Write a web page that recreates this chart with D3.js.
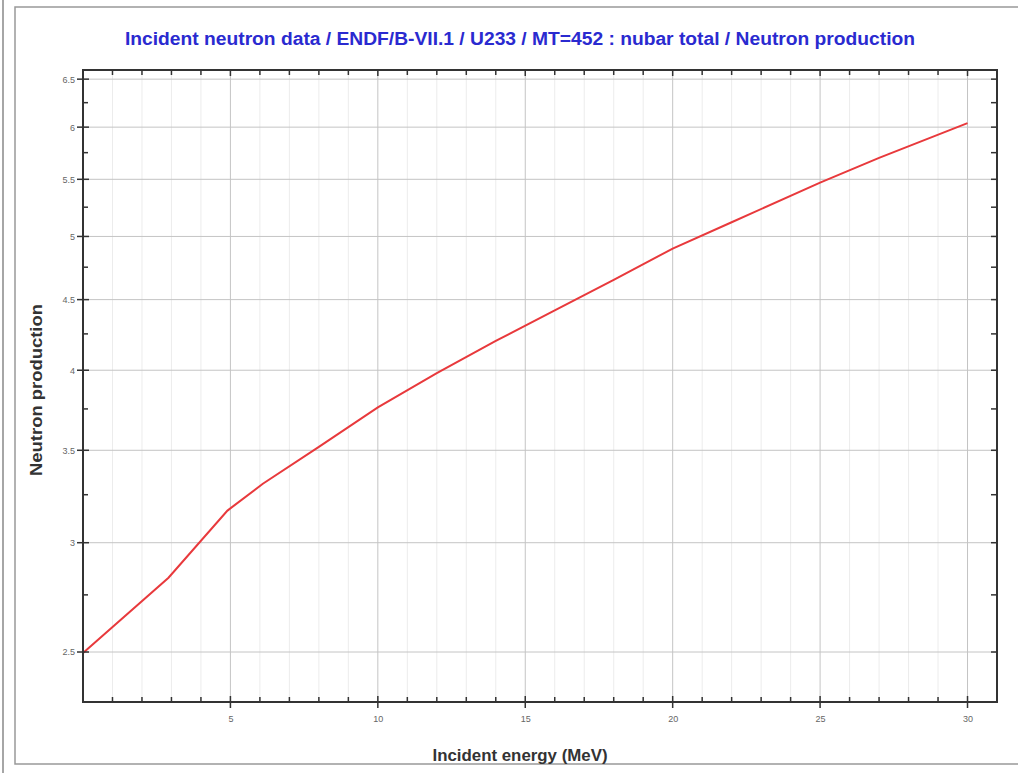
<!DOCTYPE html>
<html><head><meta charset="utf-8">
<script src="https://cdn.jsdelivr.net/npm/d3@7"></script>
<style>html,body{margin:0;padding:0;background:#fff;}svg{display:block;}</style>
</head><body>
<svg id="chart" width="1018" height="773"></svg>
<script>
// Data (ENDF/B-VII.1 U233 MT=452 nubar total)
const energyMeV = [0.00001, 2.9, 4.9, 6.1, 8, 10, 12, 14, 16, 18, 20, 22, 25, 27, 30];
const nubar     = [2.496, 2.83, 3.165, 3.31, 3.52, 3.76, 3.98, 4.20, 4.42, 4.65, 4.90, 5.12, 5.47, 5.70, 6.04];
const xMajorTicks = [5, 10, 15, 20, 25, 30];
const xMinorTicks = d3.range(1, 31);
const yMajorTicks = [2.5, 3, 3.5, 4, 4.5, 5, 5.5, 6, 6.5];
const yMinorTicks = [2.75, 3.25, 3.75, 4.25, 4.75, 5.25, 5.75, 6.25];
const titleText = "Incident neutron data / ENDF/B-VII.1 / U233 / MT=452 : nubar total / Neutron production";
const xLabel = "Incident energy (MeV)";
const yLabel = "Neutron production";

const svg = d3.select("#chart");
const L = 83, R = 997, T = 70, B = 702;
const x = d3.scaleLinear().domain([0, 31]).range([L, R]);
const y = d3.scaleLog().domain([2.3, 6.6]).range([B, T]);
const FONT = "Liberation Sans, Arial, sans-serif";

// outer frame
svg.append("line").attr("x1",3).attr("x2",3).attr("y1",0).attr("y2",773).attr("stroke","#888").attr("stroke-width",1.5);
svg.append("rect").attr("x",15).attr("y",7).attr("width",1010).attr("height",757)
  .attr("fill","none").attr("stroke","#999").attr("stroke-width",1.5);

// title
svg.append("text").attr("x",520).attr("y",45).attr("text-anchor","middle")
  .attr("font-family",FONT).attr("font-weight","bold")
  .attr("font-size",18).attr("textLength",790).attr("lengthAdjust","spacingAndGlyphs")
  .attr("fill","#2a2ad0").text(titleText);

// grid
const g = svg.append("g");
g.selectAll(".vmin").data(xMinorTicks.filter(d=>d%5!==0)).enter().append("line")
  .attr("x1",d=>x(d)).attr("x2",d=>x(d)).attr("y1",T).attr("y2",B).attr("stroke","#ececec").attr("stroke-width",1);
g.selectAll(".vmaj").data(xMajorTicks).enter().append("line")
  .attr("x1",d=>x(d)).attr("x2",d=>x(d)).attr("y1",T).attr("y2",B).attr("stroke","#c4c4c4").attr("stroke-width",1);
g.selectAll(".hmaj").data(yMajorTicks).enter().append("line")
  .attr("x1",L).attr("x2",R).attr("y1",d=>y(d)).attr("y2",d=>y(d)).attr("stroke","#c4c4c4").attr("stroke-width",1);

// curve
svg.append("path").datum(energyMeV.map((e,i)=>[e,nubar[i]]))
  .attr("fill","none").attr("stroke","#e8393c").attr("stroke-width",2)
  .attr("d", d3.line().x(d=>x(d[0])).y(d=>y(d[1])));

// axes frame
const axisColor = "#333";
svg.append("rect").attr("x",L).attr("y",T).attr("width",R-L).attr("height",B-T)
  .attr("fill","none").attr("stroke",axisColor).attr("stroke-width",2);

const fmt = d3.format("");
// bottom axis
const bottom = d3.axisBottom(x).tickValues(xMajorTicks).tickSize(0).tickPadding(14).tickFormat(fmt);
const bAx = svg.append("g").attr("transform",`translate(0,${B})`).call(bottom);
bAx.select(".domain").remove();
bAx.selectAll("text").attr("font-family",FONT).attr("font-size",9).attr("fill","#666");
// left axis
const left = d3.axisLeft(y).tickValues(yMajorTicks).tickSize(0).tickPadding(8).tickFormat(d3.format(""));
const lAx = svg.append("g").attr("transform",`translate(${L},0)`).call(left);
lAx.select(".domain").remove();
lAx.selectAll("text").attr("font-family",FONT).attr("font-size",9).attr("fill","#666");

// tick marks
const tk = svg.append("g").attr("stroke",axisColor).attr("stroke-width",1.5);
tk.selectAll(".bmaj").data(xMajorTicks).enter().append("line")
  .attr("x1",d=>x(d)).attr("x2",d=>x(d)).attr("y1",B-6).attr("y2",B+6);
tk.selectAll(".bmin").data(xMinorTicks.filter(d=>d%5!==0)).enter().append("line")
  .attr("x1",d=>x(d)).attr("x2",d=>x(d)).attr("y1",B-5).attr("y2",B);
tk.selectAll(".tt").data(xMinorTicks).enter().append("line")
  .attr("x1",d=>x(d)).attr("x2",d=>x(d)).attr("y1",T).attr("y2",d=>T+(d%5===0?6:5));
tk.selectAll(".lmaj").data(yMajorTicks).enter().append("line")
  .attr("x1",L-6).attr("x2",L+6).attr("y1",d=>y(d)).attr("y2",d=>y(d));
tk.selectAll(".lmin").data(yMinorTicks).enter().append("line")
  .attr("x1",L).attr("x2",L+5).attr("y1",d=>y(d)).attr("y2",d=>y(d));
tk.selectAll(".rt").data(yMajorTicks.concat(yMinorTicks)).enter().append("line")
  .attr("x1",R-6).attr("x2",R).attr("y1",d=>y(d)).attr("y2",d=>y(d));

// axis labels
svg.append("text").attr("x",520).attr("y",761).attr("text-anchor","middle")
  .attr("font-family",FONT).attr("font-weight","bold")
  .attr("font-size",16).attr("textLength",175).attr("lengthAdjust","spacingAndGlyphs")
  .attr("fill","#333").text(xLabel);
svg.append("text").attr("transform","translate(42,390) rotate(-90)").attr("text-anchor","middle")
  .attr("font-family",FONT).attr("font-weight","bold")
  .attr("font-size",16).attr("textLength",172).attr("lengthAdjust","spacingAndGlyphs")
  .attr("fill","#333").text(yLabel);
</script>
</body></html>
